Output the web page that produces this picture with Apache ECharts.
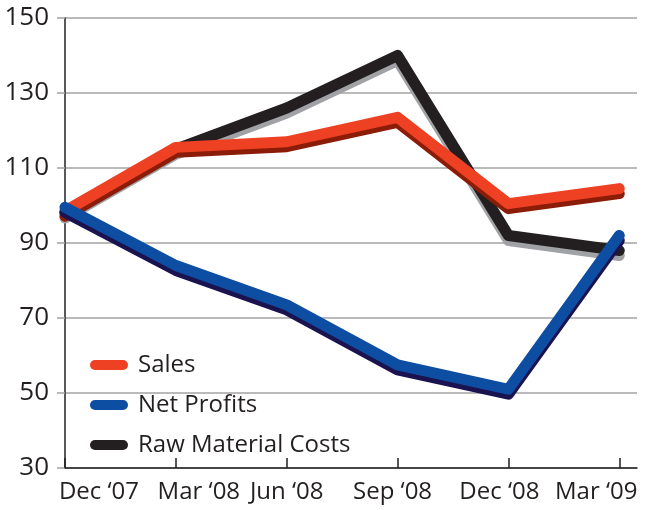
<!DOCTYPE html>
<html>
<head>
<meta charset="utf-8">
<script src="https://cdn.jsdelivr.net/npm/echarts@6/dist/echarts.min.js"></script>
<style>
html,body{margin:0;padding:0;background:#fff;}
#chart{width:650px;height:510px;}
</style>
</head>
<body>
<div id="chart"></div>
<script>
const categories = ["Dec \u201807", "Mar \u201808", "Jun \u201808", "Sep \u201808", "Dec \u201808", "Mar \u201809"];
const sales = [98.5, 115.5, 117, 123.5, 100.5, 104.5];
const netProfits = [99.5, 84, 73.5, 57.5, 51, 92];
const rawMaterialCosts = [98, 115, 126, 140, 92, 88];
const yTicks = [30, 50, 70, 90, 110, 130, 150];

const labelShift = [34, 23, 0, -5, -9, -23];
const FONT = '"Open Sans", "Noto Sans", sans-serif';
const TXT = '#231f20';

function toPoints(arr) { return arr.map((v, i) => [i, v]); }

const rich = {};
labelShift.forEach((s, i) => {
  rich['l' + i] = {
    fontFamily: FONT, fontSize: 24, color: TXT,
    padding: s >= 0 ? [0, 0, 0, 2 * s] : [0, -2 * s, 0, 0]
  };
});

function lineSeries(name, data, color, shadow, z) {
  return {
    name: name, type: 'line', data: toPoints(data), symbol: 'none', z: z,
    color: color,
    lineStyle: {
      width: 11, color: color, cap: 'round', join: 'round',
      shadowColor: shadow, shadowBlur: 0, shadowOffsetX: 0, shadowOffsetY: 5
    },
    emphasis: { disabled: true },
    animation: false
  };
}

const chart = echarts.init(document.getElementById('chart'), null, { renderer: 'canvas' });
chart.setOption({
  animation: false,
  backgroundColor: '#ffffff',
  grid: { left: 65, right: 13, top: 18, bottom: 42, containLabel: false },
  xAxis: {
    type: 'value', min: 0, max: 5.16, interval: 1,
    axisLine: { show: true, lineStyle: { color: TXT, width: 1.5 } },
    axisTick: { show: true, inside: true, length: 10, lineStyle: { color: TXT, width: 1.5 }, customValues: [0, 1, 2, 3, 4, 5] },
    splitLine: { show: false },
    axisLabel: {
      customValues: [0, 1, 2, 3, 4, 5],
      margin: 12,
      formatter: function (v) { const i = Math.round(v); return '{l' + i + '|' + categories[i] + '}'; },
      rich: rich
    }
  },
  yAxis: {
    type: 'value', min: 30, max: 150, interval: 20,
    axisLine: { show: true, lineStyle: { color: TXT, width: 1.5 } },
    axisTick: { show: true, inside: false, length: 8, lineStyle: { color: '#a3a3a3', width: 1.5 } },
    splitLine: { show: true, lineStyle: { color: '#a3a3a3', width: 1.5 } },
    axisLabel: {
      margin: 16, fontFamily: FONT, fontSize: 26, color: TXT,
      formatter: function (v) { return yTicks.indexOf(v) >= 0 ? String(v) : ''; }
    }
  },
  legend: {
    orient: 'vertical', left: 90, top: 350, padding: 0,
    itemWidth: 38, itemHeight: 10, itemGap: 10,
    icon: 'path://M5,0 H33 A5,5 0 0 1 33,10 H5 A5,5 0 0 1 5,0 Z',
    itemStyle: { shadowBlur: 0, shadowOffsetY: 0, shadowColor: 'transparent' },
    textStyle: { fontFamily: FONT, fontSize: 24, color: TXT, lineHeight: 30, padding: [0, 0, 0, 5] },
    selectedMode: false,
    data: ['Sales', 'Net Profits', 'Raw Material Costs']
  },
  series: [
    lineSeries('Sales', sales, '#ee4023', '#8a1c08', 3),
    lineSeries('Net Profits', netProfits, '#0d4ea3', '#1b1250', 4),
    lineSeries('Raw Material Costs', rawMaterialCosts, '#231f20', '#a0a2a5', 2)
  ]
});
</script>
</body>
</html>
